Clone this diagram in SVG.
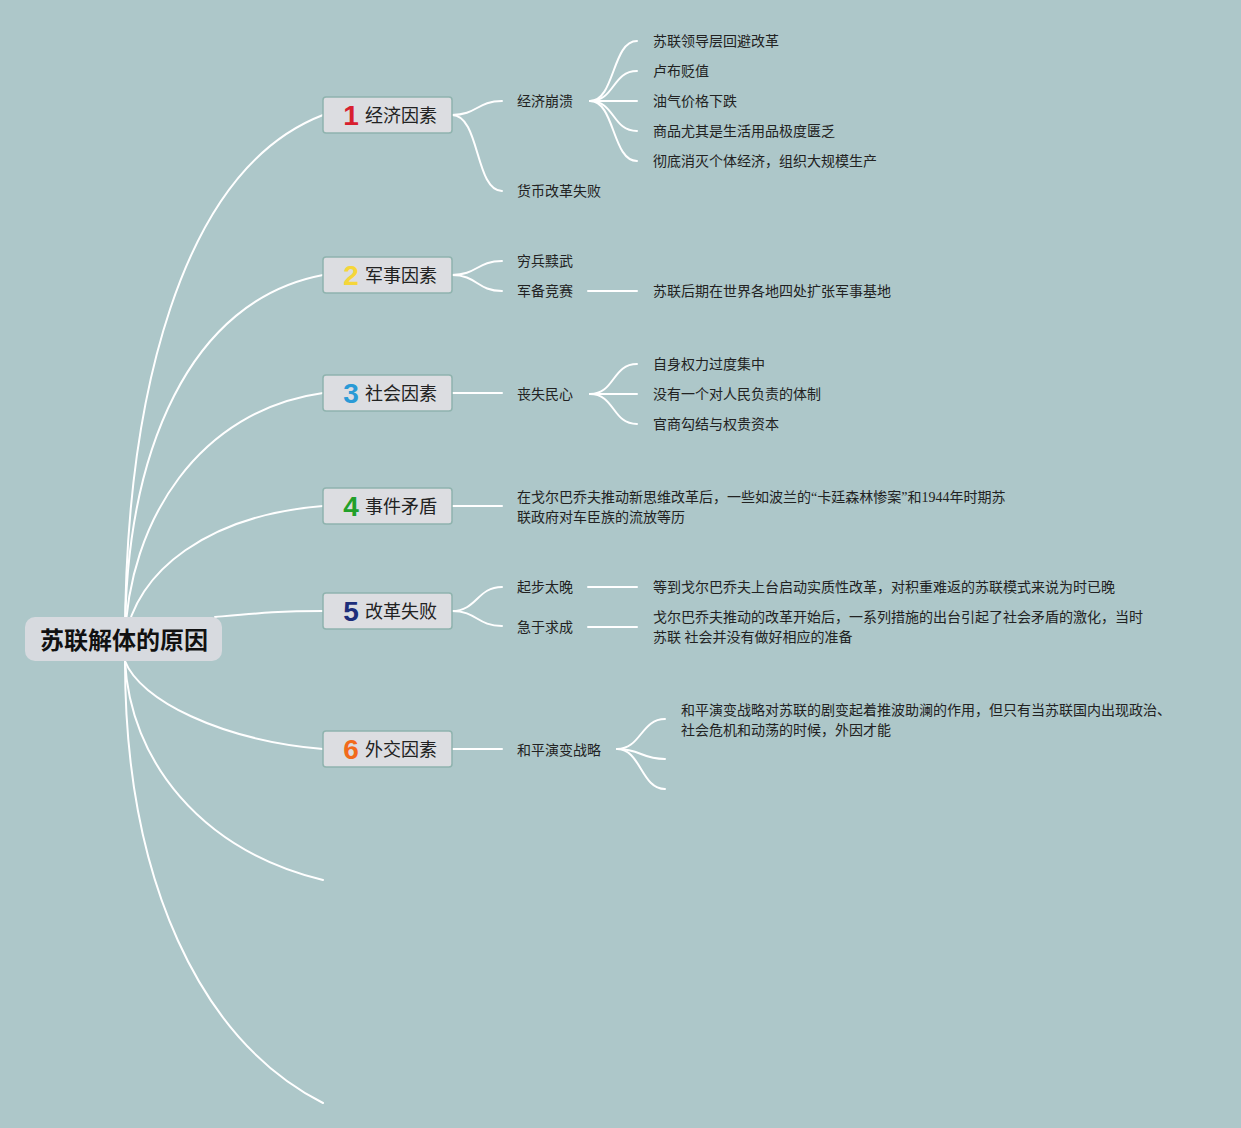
<svg xmlns="http://www.w3.org/2000/svg" width="1241" height="1128" viewBox="0 0 1241 1128">
<style>
.bg{fill:#adc7c9}
.ln{fill:none;stroke:#ffffff;stroke-width:2;stroke-linecap:round}
.br{fill:#dcdde1;stroke:#8fb3ae;stroke-width:1.5}
.num{font-family:"Liberation Sans","Noto Sans CJK SC",sans-serif;font-weight:bold;font-size:28px}
.lb{font-family:"Noto Sans CJK SC",sans-serif;font-size:18px;fill:#222}
.t{font-family:"Liberation Serif","Noto Sans CJK SC",sans-serif;font-size:14px;fill:#222}
.root{font-family:"Noto Sans CJK SC",sans-serif;font-size:24px;font-weight:bold;fill:#111}
</style>
<rect class="bg" x="0" y="0" width="1241" height="1128"/>
<g id="connectors">
<path class="ln" d="M125 641 C125 400 180 170 323 115"/>
<path class="ln" d="M125 641 C125 450 190 300 323 275"/>
<path class="ln" d="M125 641 C128 520 200 410 323 393"/>
<path class="ln" d="M125 641 C135 570 210 515 323 506"/>
<path class="ln" d="M215 617 C260 613 280 611 323 611"/>
<path class="ln" d="M125 661 C140 700 220 740 323 749"/>
<path class="ln" d="M125 661 C130 760 200 850 323 880"/>
<path class="ln" d="M125 661 C125 880 200 1040 323 1103"/>
<path class="ln" d="M452 115 C477 115 477 101 502 101"/>
<path class="ln" d="M452 115 C480 115 475 191 502 191"/>
<path class="ln" d="M590 101 C615 101 612 41 637 41"/>
<path class="ln" d="M590 101 C615 101 612 71 637 71"/>
<path class="ln" d="M590 101 L637 101"/>
<path class="ln" d="M590 101 C615 101 612 131 637 131"/>
<path class="ln" d="M590 101 C615 101 612 161 637 161"/>
<path class="ln" d="M452 275 C477 275 477 261 502 261"/>
<path class="ln" d="M452 275 C477 275 477 291 502 291"/>
<path class="ln" d="M588 291 L637 291"/>
<path class="ln" d="M452 393 L502 393"/>
<path class="ln" d="M590 394 C615 394 612 364 637 364"/>
<path class="ln" d="M590 394 L637 394"/>
<path class="ln" d="M590 394 C615 394 612 424 637 424"/>
<path class="ln" d="M452 506 L502 506"/>
<path class="ln" d="M452 611 C477 611 477 587 502 587"/>
<path class="ln" d="M452 611 C477 611 477 626 502 626"/>
<path class="ln" d="M588 587 L637 587"/>
<path class="ln" d="M588 627 L637 627"/>
<path class="ln" d="M452 749 L502 749"/>
<path class="ln" d="M617 749 C641 749 641 719 665 719"/>
<path class="ln" d="M617 749 C641 749 641 759 665 759"/>
<path class="ln" d="M617 749 C641 749 641 789 665 789"/>
</g>
<g id="root">
<rect x="25" y="617" width="197" height="44" rx="10" fill="#d7dadf"/>
<text class="root" x="124" y="649" text-anchor="middle">苏联解体的原因</text>
</g>
<g id="n1"><rect class="br" x="323" y="97" width="129" height="36" rx="3"/><text class="num" x="351" y="125" text-anchor="middle" fill="#d8202f">1</text><text class="lb" x="365" y="122">经济因素</text></g>
<g id="n2"><rect class="br" x="323" y="257" width="129" height="36" rx="3"/><text class="num" x="351" y="285" text-anchor="middle" fill="#f5d63a">2</text><text class="lb" x="365" y="282">军事因素</text></g>
<g id="n3"><rect class="br" x="323" y="375" width="129" height="36" rx="3"/><text class="num" x="351" y="403" text-anchor="middle" fill="#2a9ad6">3</text><text class="lb" x="365" y="400">社会因素</text></g>
<g id="n4"><rect class="br" x="323" y="488" width="129" height="36" rx="3"/><text class="num" x="351" y="516" text-anchor="middle" fill="#22a02a">4</text><text class="lb" x="365" y="513">事件矛盾</text></g>
<g id="n5"><rect class="br" x="323" y="593" width="129" height="36" rx="3"/><text class="num" x="351" y="621" text-anchor="middle" fill="#1d2e7a">5</text><text class="lb" x="365" y="618">改革失败</text></g>
<g id="n6"><rect class="br" x="323" y="731" width="129" height="36" rx="3"/><text class="num" x="351" y="759" text-anchor="middle" fill="#f26a1b">6</text><text class="lb" x="365" y="756">外交因素</text></g>
<g id="n1-sub">
<text class="t" x="517" y="106">经济崩溃</text>
<text class="t" x="517" y="196">货币改革失败</text>
<text class="t" x="653" y="46">苏联领导层回避改革</text>
<text class="t" x="653" y="76">卢布贬值</text>
<text class="t" x="653" y="106">油气价格下跌</text>
<text class="t" x="653" y="136">商品尤其是生活用品极度匮乏</text>
<text class="t" x="653" y="166">彻底消灭个体经济，组织大规模生产</text>
</g>
<g id="n2-sub">
<text class="t" x="517" y="266">穷兵黩武</text>
<text class="t" x="517" y="296">军备竞赛</text>
<text class="t" x="653" y="296">苏联后期在世界各地四处扩张军事基地</text>
</g>
<g id="n3-sub">
<text class="t" x="517" y="399">丧失民心</text>
<text class="t" x="653" y="369">自身权力过度集中</text>
<text class="t" x="653" y="399">没有一个对人民负责的体制</text>
<text class="t" x="653" y="429">官商勾结与权贵资本</text>
</g>
<g id="n4-sub">
<text class="t" x="517" y="502">在戈尔巴乔夫推动新思维改革后，一些如波兰的“卡廷森林惨案”和1944年时期苏</text>
<text class="t" x="517" y="522">联政府对车臣族的流放等历</text>
</g>
<g id="n5-sub">
<text class="t" x="517" y="592">起步太晚</text>
<text class="t" x="517" y="632">急于求成</text>
<text class="t" x="653" y="592">等到戈尔巴乔夫上台启动实质性改革，对积重难返的苏联模式来说为时已晚</text>
<text class="t" x="653" y="622">戈尔巴乔夫推动的改革开始后，一系列措施的出台引起了社会矛盾的激化，当时</text>
<text class="t" x="653" y="642">苏联 社会并没有做好相应的准备</text>
</g>
<g id="n6-sub">
<text class="t" x="517" y="755">和平演变战略</text>
<text class="t" x="681" y="715">和平演变战略对苏联的剧变起着推波助澜的作用，但只有当苏联国内出现政治、</text>
<text class="t" x="681" y="735">社会危机和动荡的时候，外因才能</text>
</g>
</svg>
